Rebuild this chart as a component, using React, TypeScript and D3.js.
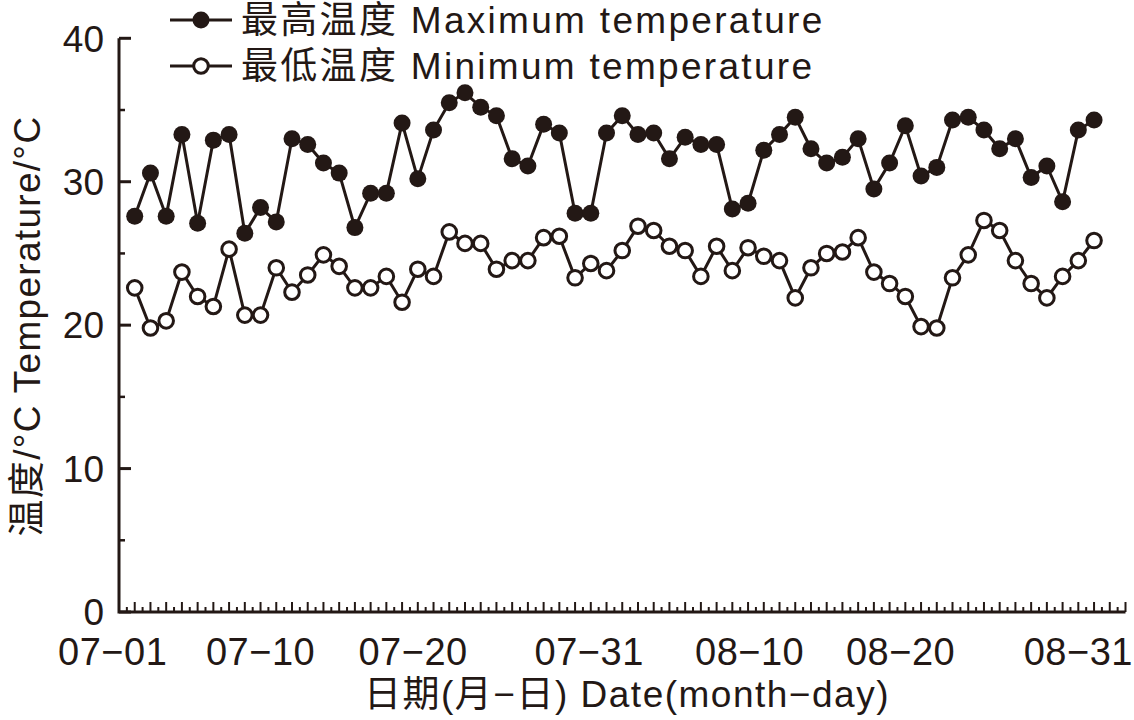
import * as d3 from "d3";

// daily temperatures, 07-01 .. 08-31
const maxTemp = [
  27.6, 30.6, 27.6, 33.3, 27.1, 32.9, 33.3, 26.4, 28.2, 27.2,
  33.0, 32.6, 31.3, 30.6, 26.8, 29.2, 29.2, 34.1, 30.2, 33.6,
  35.5, 36.2, 35.2, 34.6, 31.6, 31.1, 34.0, 33.4, 27.8, 27.8,
  33.4, 34.6, 33.3, 33.4, 31.6, 33.1, 32.6, 32.6, 28.1, 28.5,
  32.2, 33.3, 34.5, 32.3, 31.3, 31.7, 33.0, 29.5, 31.3, 33.9,
  30.4, 31.0, 34.3, 34.5, 33.6, 32.3, 33.0, 30.3, 31.1, 28.6,
  33.6, 34.3,
];
const minTemp = [
  22.6, 19.8, 20.3, 23.7, 22.0, 21.3, 25.3, 20.7, 20.7, 24.0,
  22.3, 23.5, 24.9, 24.1, 22.6, 22.6, 23.4, 21.6, 23.9, 23.4,
  26.5, 25.7, 25.7, 23.9, 24.5, 24.5, 26.1, 26.2, 23.3, 24.3,
  23.8, 25.2, 26.9, 26.6, 25.5, 25.2, 23.4, 25.5, 23.8, 25.4,
  24.8, 24.5, 21.9, 24.0, 25.0, 25.1, 26.1, 23.7, 22.9, 22.0,
  19.9, 19.8, 23.3, 24.9, 27.3, 26.6, 24.5, 22.9, 21.9, 23.4,
  24.5, 25.9,
];
const dateLabels = ["07-01", "07-10", "07-20", "07-31", "08-10", "08-20", "08-31"];
// label centres in day-index units, as placed in the original figure
const dateLabelPos = [-1.4, 8.0, 17.7, 28.9, 39.1, 48.7, 60.0];
const yTicks = [0, 10, 20, 30, 40];
const yMinorTicks = [5, 15, 25, 35];

const ink = "#231815";
const font = "'Liberation Sans', Arial, 'Noto Sans CJK SC', sans-serif";

export default function App() {
  const width = 1134;
  const height = 720;
  const x = d3.scaleLinear().domain([-1, 63]).range([119, 1125.5]);
  const y = d3.scaleLinear().domain([0, 40]).range([612, 38.3]);

  const line = d3
    .line<number>()
    .x((_, i) => x(i))
    .y((d) => y(d));

  const xTicks = d3.range(-0.5, 63.01, 0.5);

  return (
    <svg
      width={width}
      height={height}
      style={{ position: "absolute", left: 0, top: 0, background: "#fff" }}
      fontFamily={font}
      fill={ink}
    >
      {/* axes */}
      <path
        d={`M${x(-1)},${y(40)}V${y(0)}H${x(63)}`}
        fill="none"
        stroke={ink}
        strokeWidth={3}
      />
      {yTicks.map((t) => (
        <g key={t}>
          <line x1={x(-1)} x2={x(-1) + 12} y1={y(t)} y2={y(t)} stroke={ink} strokeWidth={3} />
          <text x={104} y={y(t)} dy="0.36em" textAnchor="end" fontSize={37}>
            {t}
          </text>
        </g>
      ))}
      {yMinorTicks.map((t) => (
        <line key={t} x1={x(-1)} x2={x(-1) + 6} y1={y(t)} y2={y(t)} stroke={ink} strokeWidth={2.5} />
      ))}
      {xTicks.map((t) => {
        const major = Math.abs(t - Math.round(t)) < 1e-6;
        return (
          <line
            key={t}
            x1={x(t)}
            x2={x(t)}
            y1={y(0)}
            y2={y(0) - (major ? 10 : 5)}
            stroke={ink}
            strokeWidth={2}
          />
        );
      })}
      {dateLabels.map((lab, i) => (
        <text
          key={lab}
          x={x(dateLabelPos[i])}
          y={665}
          textAnchor="middle"
          fontSize={38}
          letterSpacing={0.5}
        >
          {lab.replace("-", "\u2212")}
        </text>
      ))}

      {/* axis titles */}
      <text x={627} y={707} textAnchor="middle" fontSize={37} letterSpacing={1.5}>
        日期(月−日) Date(month−day)
      </text>
      <text
        transform={`translate(40,${326}) rotate(-90)`}
        textAnchor="middle"
        fontSize={37}
        letterSpacing={1.3}
      >
        温度/°C Temperature/°C
      </text>

      {/* series */}
      <path d={line(maxTemp) ?? ""} fill="none" stroke={ink} strokeWidth={3} />
      <path d={line(minTemp) ?? ""} fill="none" stroke={ink} strokeWidth={3} />
      {maxTemp.map((d, i) => (
        <circle key={`mx${i}`} cx={x(i)} cy={y(d)} r={8.5} fill={ink} />
      ))}
      {minTemp.map((d, i) => (
        <circle key={`mn${i}`} cx={x(i)} cy={y(d)} r={7.3} fill="#fff" stroke={ink} strokeWidth={3} />
      ))}

      {/* legend */}
      <g transform="translate(170,20)">
        <line x1={0} x2={62} y1={0} y2={0} stroke={ink} strokeWidth={3} />
        <circle cx={31} cy={0} r={8.5} fill={ink} />
        <text x={71} y={0} dy="0.36em" fontSize={37} letterSpacing={2.3}>
          最高温度 Maximum temperature
        </text>
      </g>
      <g transform="translate(170,66)">
        <line x1={0} x2={62} y1={0} y2={0} stroke={ink} strokeWidth={3} />
        <circle cx={31} cy={0} r={7.3} fill="#fff" stroke={ink} strokeWidth={3} />
        <text x={71} y={0} dy="0.36em" fontSize={37} letterSpacing={2.3}>
          最低温度 Minimum temperature
        </text>
      </g>
    </svg>
  );
}
